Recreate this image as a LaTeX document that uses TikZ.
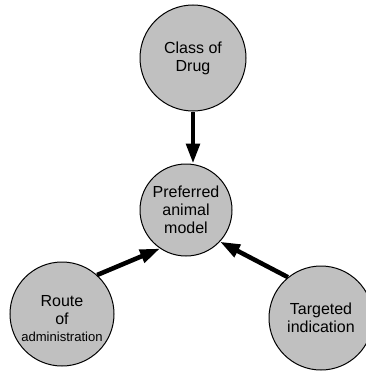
\documentclass[tikz,border=0pt]{standalone}
\usepackage{fontspec}
\setmainfont{Liberation Sans}
\usetikzlibrary{arrows.meta}
\definecolor{bubblegray}{RGB}{192,192,192}
\begin{document}
\begin{tikzpicture}[x=0.75pt,y=-0.75pt,
    bubble/.style={circle,draw,line width=0.75pt,fill=bubblegray,inner sep=0pt,
        align=center,font=\fontsize{12}{13.5}\selectfont},
    feed/.style={line width=3.4pt,-{Triangle[length=15pt,width=10pt]}}]
        \useasboundingbox (0,0) rectangle (366,371);
        \node[bubble,minimum size=79.5pt] at (193,58) (drug) {Class of\\Drug};
        \node[bubble,minimum size=69pt] at (186,210) (model) {Preferred\\animal\\model};
        \node[bubble,minimum size=78pt] at (62,314) (route) {\rule{0pt}{15pt}Route\\of\\[-1pt]{\fontsize{9.8}{12}\selectfont administration}};
        \node[bubble,minimum size=78pt] at (321,318) (target) {Targeted\\indication};
        \draw[feed] (drug.south) -- (drug.south |- model.north);
        \draw[feed] (route.48) -- (model.236);
        \draw[feed] (target.129) -- (model.317);
    \end{tikzpicture}
\end{document}
